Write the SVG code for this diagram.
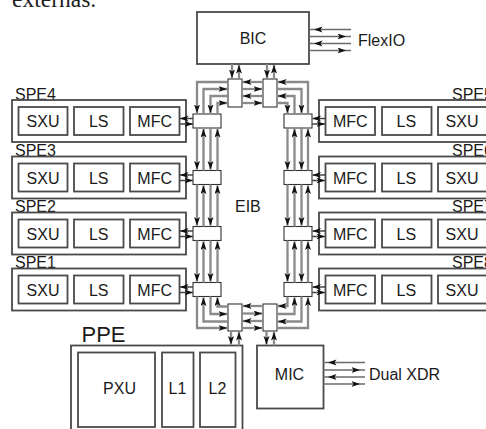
<svg xmlns="http://www.w3.org/2000/svg" width="486" height="429" viewBox="0 0 486 429">
<style>
.box{fill:#fff;stroke:#4a4a4a;stroke-width:1.8}
.jn{fill:#fff;stroke:#333;stroke-width:1.1}
.t{font-family:"Liberation Sans",Arial,sans-serif;font-size:16px;fill:#1a1a1a}
.c{text-anchor:middle}
.ring{fill:none;stroke:#8a8a8a;stroke-width:2.3;marker-end:url(#ah)}
.io{fill:none;stroke:#6a6a6a;stroke-width:1.5;marker-end:url(#ah2)}
.sh{fill:none;stroke:#444;stroke-width:1.5;marker-end:url(#ah)}
</style>
<defs>
<marker id="ah" markerUnits="userSpaceOnUse" viewBox="0 0 10 8" markerWidth="10" markerHeight="8" refX="8.5" refY="3" orient="auto"><path d="M0,0 L8.5,3 L0,6 L2,3z" fill="#111"/></marker>
<marker id="ah2" markerUnits="userSpaceOnUse" viewBox="0 0 16 8" markerWidth="16" markerHeight="8" refX="13.5" refY="3" orient="auto"><path d="M0,0 L8.5,3 L0,6 L2,3z" fill="#111"/></marker>
</defs>
<rect width="486" height="429" fill="#fff"/>
<text x="12" y="7" style="font-family:'Liberation Serif','Times New Roman',serif;font-size:23.5px;fill:#222">externas.</text>

<g id="bic"><rect class="box" x="197" y="12" width="112" height="52"/><text class="t c" x="253" y="44">BIC</text></g>
<g id="flexio"><text class="t" x="358" y="46">FlexIO</text></g>
<g id="eib"><text class="t" x="235" y="212">EIB</text></g>

<g id="spe4"><text class="t" x="15" y="99.5">SPE4</text><rect class="box" x="12" y="100" width="174" height="42"/>
<rect class="box" x="18.5" y="107" width="49" height="28"/><text class="t c" x="43" y="127">SXU</text>
<rect class="box" x="74" y="107" width="49.5" height="28"/><text class="t c" x="98.7" y="127">LS</text>
<rect class="box" x="130" y="107" width="49.5" height="28"/><text class="t c" x="154.7" y="127">MFC</text></g>
<g id="spe3"><text class="t" x="15" y="156">SPE3</text><rect class="box" x="12" y="156.5" width="174" height="42"/>
<rect class="box" x="18.5" y="163.5" width="49" height="28"/><text class="t c" x="43" y="183.5">SXU</text>
<rect class="box" x="74" y="163.5" width="49.5" height="28"/><text class="t c" x="98.7" y="183.5">LS</text>
<rect class="box" x="130" y="163.5" width="49.5" height="28"/><text class="t c" x="154.7" y="183.5">MFC</text></g>
<g id="spe2"><text class="t" x="15" y="212">SPE2</text><rect class="box" x="12" y="212.5" width="174" height="42"/>
<rect class="box" x="18.5" y="219.5" width="49" height="28"/><text class="t c" x="43" y="239.5">SXU</text>
<rect class="box" x="74" y="219.5" width="49.5" height="28"/><text class="t c" x="98.7" y="239.5">LS</text>
<rect class="box" x="130" y="219.5" width="49.5" height="28"/><text class="t c" x="154.7" y="239.5">MFC</text></g>
<g id="spe1"><text class="t" x="15" y="268">SPE1</text><rect class="box" x="12" y="268.5" width="174" height="42"/>
<rect class="box" x="18.5" y="275.5" width="49" height="28"/><text class="t c" x="43" y="295.5">SXU</text>
<rect class="box" x="74" y="275.5" width="49.5" height="28"/><text class="t c" x="98.7" y="295.5">LS</text>
<rect class="box" x="130" y="275.5" width="49.5" height="28"/><text class="t c" x="154.7" y="295.5">MFC</text></g>

<g id="spe5"><text class="t" x="452" y="99.5">SPE5</text><rect class="box" x="319" y="100" width="174" height="42"/>
<rect class="box" x="325.5" y="107" width="49.5" height="28"/><text class="t c" x="350.3" y="127">MFC</text>
<rect class="box" x="382" y="107" width="49.5" height="28"/><text class="t c" x="406.3" y="127">LS</text>
<rect class="box" x="438" y="107" width="49" height="28"/><text class="t c" x="462" y="127">SXU</text></g>
<g id="spe6"><text class="t" x="452" y="156">SPE6</text><rect class="box" x="319" y="156.5" width="174" height="42"/>
<rect class="box" x="325.5" y="163.5" width="49.5" height="28"/><text class="t c" x="350.3" y="183.5">MFC</text>
<rect class="box" x="382" y="163.5" width="49.5" height="28"/><text class="t c" x="406.3" y="183.5">LS</text>
<rect class="box" x="438" y="163.5" width="49" height="28"/><text class="t c" x="462" y="183.5">SXU</text></g>
<g id="spe7"><text class="t" x="452" y="212">SPE7</text><rect class="box" x="319" y="212.5" width="174" height="42"/>
<rect class="box" x="325.5" y="219.5" width="49.5" height="28"/><text class="t c" x="350.3" y="239.5">MFC</text>
<rect class="box" x="382" y="219.5" width="49.5" height="28"/><text class="t c" x="406.3" y="239.5">LS</text>
<rect class="box" x="438" y="219.5" width="49" height="28"/><text class="t c" x="462" y="239.5">SXU</text></g>
<g id="spe8"><text class="t" x="452" y="268">SPE8</text><rect class="box" x="319" y="268.5" width="174" height="42"/>
<rect class="box" x="325.5" y="275.5" width="49.5" height="28"/><text class="t c" x="350.3" y="295.5">MFC</text>
<rect class="box" x="382" y="275.5" width="49.5" height="28"/><text class="t c" x="406.3" y="295.5">LS</text>
<rect class="box" x="438" y="275.5" width="49" height="28"/><text class="t c" x="462" y="295.5">SXU</text></g>

<g id="ppe"><text class="t" x="81.5" y="342" style="font-size:22px">PPE</text><rect class="box" x="71" y="345.5" width="171.5" height="95"/>
<rect class="box" x="78" y="352.5" width="77" height="74.5"/><text class="t c" x="119.5" y="394">PXU</text>
<rect class="box" x="162" y="352.5" width="31.5" height="74.5"/><text class="t c" x="177.5" y="394">L1</text>
<rect class="box" x="200" y="352.5" width="35.5" height="74.5"/><text class="t c" x="217.5" y="394">L2</text></g>
<g id="mic"><rect class="box" x="257" y="345.5" width="66.5" height="63"/><text class="t c" x="289.5" y="380">MIC</text></g>
<g id="dualxdr"><text class="t" x="369" y="380">Dual XDR</text></g>

<g id="junctions">
<rect class="jn" x="228" y="79" width="14" height="28"/><rect class="jn" x="263" y="79" width="14" height="28"/>
<rect class="jn" x="228" y="304" width="14" height="27"/><rect class="jn" x="263" y="304" width="14" height="27"/>
<rect class="jn" x="193" y="114" width="28" height="14"/><rect class="jn" x="284" y="114" width="28" height="14"/>
<rect class="jn" x="193" y="170.5" width="28" height="14"/><rect class="jn" x="284" y="170.5" width="28" height="14"/>
<rect class="jn" x="193" y="226.5" width="28" height="14"/><rect class="jn" x="284" y="226.5" width="28" height="14"/>
<rect class="jn" x="193" y="282.5" width="28" height="14"/><rect class="jn" x="284" y="282.5" width="28" height="14"/>
</g>

<g id="connectors">
<!-- BIC to upper junctions -->
<path class="ring" d="M232,64V78"/><path class="ring" d="M239,79V65"/>
<path class="ring" d="M267,64V78"/><path class="ring" d="M274,79V65"/>
<!-- between upper junctions -->
<path class="ring" d="M263,82H243"/><path class="ring" d="M242,89H262"/>
<path class="ring" d="M263,96H243"/><path class="ring" d="M242,103H262"/>
<!-- upper left -->
<path class="ring" d="M228,82H197V113"/><path class="ring" d="M203.5,114V89H227"/>
<path class="ring" d="M228,96H210.5V113"/><path class="ring" d="M217.5,114V103H227"/>
<!-- upper right -->
<path class="ring" d="M308,114V82H278"/><path class="ring" d="M277,89H301.5V113"/>
<path class="ring" d="M294.5,114V96H278"/><path class="ring" d="M277,103H287.5V113"/>
<!-- left vertical ring -->
<path class="ring" d="M197,128V169.5"/><path class="ring" d="M210.5,128V169.5"/>
<path class="ring" d="M203.5,170.5V129"/><path class="ring" d="M217.5,170.5V129"/>
<path class="ring" d="M197,184.5V225.5"/><path class="ring" d="M210.5,184.5V225.5"/>
<path class="ring" d="M203.5,226.5V185.5"/><path class="ring" d="M217.5,226.5V185.5"/>
<path class="ring" d="M197,240.5V281.5"/><path class="ring" d="M210.5,240.5V281.5"/>
<path class="ring" d="M203.5,282.5V241.5"/><path class="ring" d="M217.5,282.5V241.5"/>
<!-- right vertical ring -->
<path class="ring" d="M287.5,128V169.5"/><path class="ring" d="M301.5,128V169.5"/>
<path class="ring" d="M294.5,170.5V129"/><path class="ring" d="M308,170.5V129"/>
<path class="ring" d="M287.5,184.5V225.5"/><path class="ring" d="M301.5,184.5V225.5"/>
<path class="ring" d="M294.5,226.5V185.5"/><path class="ring" d="M308,226.5V185.5"/>
<path class="ring" d="M287.5,240.5V281.5"/><path class="ring" d="M301.5,240.5V281.5"/>
<path class="ring" d="M294.5,282.5V241.5"/><path class="ring" d="M308,282.5V241.5"/>
<!-- lower left -->
<path class="ring" d="M197,296.5V328H227"/><path class="ring" d="M228,321.5H203.5V297.5"/>
<path class="ring" d="M210.5,296.5V314H227"/><path class="ring" d="M228,306.5H217.5V297.5"/>
<!-- between lower junctions -->
<path class="ring" d="M263,306H243"/><path class="ring" d="M242,313.5H262"/>
<path class="ring" d="M263,321H243"/><path class="ring" d="M242,328H262"/>
<!-- lower right -->
<path class="ring" d="M287.5,296.5V306H278"/><path class="ring" d="M277,314H294.5V297.5"/>
<path class="ring" d="M301.5,296.5V321.5H278"/><path class="ring" d="M277,328H308V297.5"/>
<!-- lower junctions to PPE and MIC -->
<path class="ring" d="M231,331V344.5"/><path class="ring" d="M239,345.5V332"/>
<path class="ring" d="M266.5,331V344.5"/><path class="ring" d="M274,345.5V332"/>
<!-- MFC to ring, left -->
<path class="sh" d="M193,118.5H180"/><path class="sh" d="M180,124H193"/>
<path class="sh" d="M193,175H180"/><path class="sh" d="M180,180.5H193"/>
<path class="sh" d="M193,231H180"/><path class="sh" d="M180,236.5H193"/>
<path class="sh" d="M193,287H180"/><path class="sh" d="M180,292.5H193"/>
<!-- MFC to ring, right -->
<path class="sh" d="M325.5,118.5H312.5"/><path class="sh" d="M312,124H325"/>
<path class="sh" d="M325.5,175H312.5"/><path class="sh" d="M312,180.5H325"/>
<path class="sh" d="M325.5,231H312.5"/><path class="sh" d="M312,236.5H325"/>
<path class="sh" d="M325.5,287H312.5"/><path class="sh" d="M312,292.5H325"/>
<!-- FlexIO -->
<path class="io" d="M351,29.5H309"/><path class="io" d="M309,36.5H351"/>
<path class="io" d="M351,43.5H309"/><path class="io" d="M309,50.5H351"/>
<!-- Dual XDR -->
<path class="io" d="M365,362.5H323"/><path class="io" d="M323,370H365"/>
<path class="io" d="M365,377H323"/><path class="io" d="M323,384H365"/>
</g>
</svg>
